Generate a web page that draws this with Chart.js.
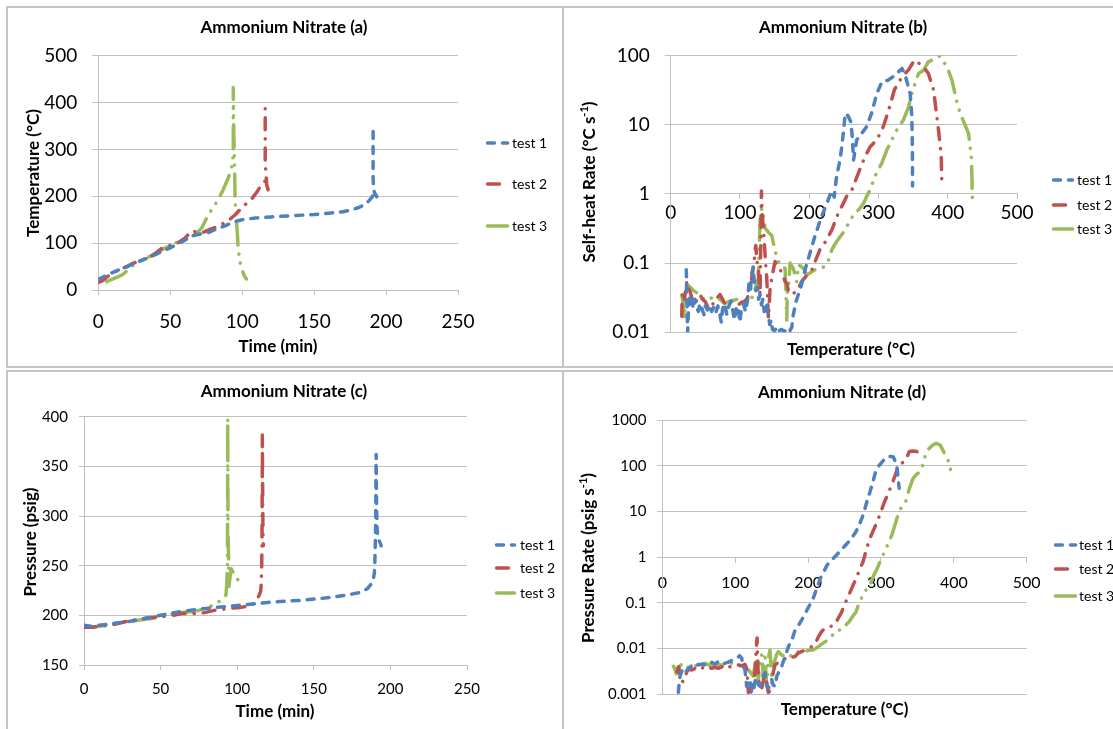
<!DOCTYPE html>
<html><head><meta charset="utf-8">
<script src="https://cdn.jsdelivr.net/npm/chart.js@4.4.1/dist/chart.umd.min.js"></script>
<style>
html,body{margin:0;padding:0;background:#fff;overflow:hidden;width:1113px;height:729px;}
.frame{position:absolute;border:2px solid #c4c4c4;box-sizing:border-box;}
canvas{position:absolute;}
</style></head><body>
<div class="frame" style="left:6px;top:6px;width:558px;height:362px"></div>
<div class="frame" style="left:562px;top:6px;width:570px;height:362px"></div>
<div class="frame" style="left:6px;top:370px;width:558px;height:380px"></div>
<div class="frame" style="left:562px;top:370px;width:570px;height:380px"></div>
<canvas id="ca" width="554" height="360" style="left:8px;top:8px"></canvas>
<canvas id="cb" width="556" height="360" style="left:564px;top:8px"></canvas>
<canvas id="cc" width="554" height="360" style="left:8px;top:371px"></canvas>
<canvas id="cd" width="556" height="360" style="left:564px;top:371px"></canvas>
<script>
// ---------- data ----------
const seriesNames = ['test 1', 'test 2', 'test 3'];
const panelTitles = ['Ammonium Nitrate (a)', 'Ammonium Nitrate (b)', 'Ammonium Nitrate (c)', 'Ammonium Nitrate (d)'];

// (a) Temperature (°C) vs Time (min)
const aTime1 = [0,5,9,15,20,25,30,35,40,44,50,55,60,62.5,66,70,76,82,88,95,100,109,120,137,150,160,170,176,181,185,188,190,191,192.5,193.6,192,191.3,191,191,191,191,191,191];
const aTemp1 = [23,30,36,44,50,57,63,69,76,82,90,98,106,111,116,119,122,130,137,146,150,153.5,156,159,161,164,167,171,176,182,190,197,203,208,199,207,217,240,260,282,310,330,353];
const aTime2 = [0,3,6,11.6,16,20,24,27.8,32,38,44,50,55,60,64.9,68,72,78,83.3,90.3,95,99.6,103,106.5,110,113.5,115.8,118,117,116.5,116,116,116,116,116];
const aTemp2 = [16,20,28,39,45,50,57,61,66,74,89,95,100,110,126,124,122,130,135.6,148,160,175,185,194,208,225,232,214,225,250,270,303,330,360,389];
const aTime3 = [5.8,9,13.9,17,20.8,24,27.8,32,36,40,44,50,54,57.9,61,64.9,68,71.8,74,76,78.7,81,83.5,86.8,90.3,92.6,93.5,93.8,93.8,93.8,93.8,94,94.2,94.5,94.8,95,95.5,96,96.7,97.2,98.4,100,101.5,103];
const aTemp3 = [18,22,28.5,33,43,52,60,66,72,79,85.6,95,101,107,110,114,120,132,145,158,171,182,193,214,239,260.6,280,303,340,380,432,380,330,300,250,200,170,146,119,89,60.6,42,30,23.5];

// (b) Self-heat rate (°C/s) vs Temperature (°C)
const bTemp1 = [22.5,23,23.5,24,24.5,25.5,27,29,31,33,35,37,40,42,45,48,50,53,56,59,62,65,68,71,73,75,78,81,84,87,90,92,95,98,100,102,105,108,111,113,115,117,119,121,123,125,127,129,131,133,135,138,141,143,145,147,150,153,156,160,164,168,172,175,176,181,188,194,200,208,217,226,232,236,239.5,244.5,247,250,252,256,260,262,264,268.5,276,283,290,297.5,305,314,324,334,338.5,345.8,348.2,349,349.2];
const bRate1 = [0.08,0.05,0.025,0.015,0.01,0.02,0.03,0.035,0.026,0.022,0.03,0.024,0.02,0.026,0.022,0.018,0.024,0.021,0.025,0.02,0.023,0.019,0.024,0.018,0.014,0.022,0.026,0.018,0.024,0.028,0.02,0.015,0.024,0.02,0.014,0.022,0.026,0.02,0.03,0.05,0.04,0.07,0.087,0.05,0.04,0.045,0.03,0.035,0.025,0.03,0.02,0.026,0.018,0.013,0.015,0.011,0.0105,0.012,0.0105,0.011,0.0102,0.0115,0.0105,0.012,0.016,0.028,0.045,0.08,0.128,0.24,0.45,0.75,1.1,0.9,1.8,3.1,4.8,9,14.6,13.5,11,7,3.1,6,7.5,9.4,14.6,28,42,44,52,65,52,28,13,4.3,1.3];
const bTemp2 = [16,16.5,18,20,23.1,25,27.9,31,35.1,38,42.3,46,49.6,53,56.8,60,64,68,71.2,75,78.5,83,88,93,97.7,102,107.4,111,114.6,117,119.4,121,122.8,124.5,126.6,129,130.3,131,132,133.9,136.3,138.7,141.1,143.5,147,150.7,155.5,160.3,165.2,167.6,170,174.8,178,182,189.2,196.5,203.7,208.5,215.8,223,232.6,239.8,247,254,261.5,271,280.8,288,297.6,307,314.5,323,333.8,343.4,352,365,372,379.5,386.7,390.6,391.6];
const bRate2 = [0.017,0.03,0.04,0.03,0.054,0.045,0.039,0.03,0.025,0.03,0.035,0.03,0.028,0.024,0.022,0.025,0.028,0.032,0.035,0.03,0.025,0.027,0.028,0.026,0.025,0.027,0.028,0.032,0.039,0.06,0.089,0.12,0.18,0.11,0.075,0.035,0.3,1.1,0.5,0.32,0.13,0.06,0.016,0.043,0.07,0.105,0.084,0.075,0.054,0.051,0.039,0.035,0.037,0.039,0.054,0.067,0.079,0.105,0.16,0.2,0.3,0.47,0.66,0.92,1.14,2,3.5,4.8,6,9.4,16,32,49,62,86,69,55,32,8.4,3.5,1.26];
const bTemp3 = [16,17,18.5,20,21,23,27.9,33,39.9,45,49.6,55,61,64,71,78.5,84,90.5,97.7,102.5,107.4,112,117,121.8,126.6,128,129,131.5,134,136.3,141,146,150.7,155.5,160,165.2,167.6,168.5,170,172.4,175,177,182,184.4,188,191.7,196.5,203.7,208,213,218,223,227.8,232.6,237.4,244.6,251.8,259,266,272,278.4,283,288,295,304.9,312,319,326.5,336,343.4,348,353,357.8,365,372,382,388,399,406,415,422,430,434,435,435.5];
const bRate3 = [0.035,0.03,0.022,0.016,0.025,0.05,0.045,0.04,0.036,0.032,0.029,0.03,0.032,0.035,0.03,0.026,0.028,0.029,0.03,0.031,0.028,0.03,0.031,0.043,0.06,0.2,0.41,0.62,0.49,0.32,0.28,0.25,0.15,0.105,0.09,0.084,0.015,0.04,0.043,0.1,0.09,0.084,0.054,0.094,0.09,0.084,0.067,0.075,0.08,0.084,0.085,0.09,0.11,0.155,0.19,0.24,0.3,0.42,0.52,0.6,0.73,0.92,1.15,1.8,2.8,4.3,6,8.4,11.7,18,28,40,55,61,81,90,98,69,44,18,11.7,7.5,3.5,1.6,0.78];

// (c) Pressure (psig) vs Time (min)
const cTime1 = [0,5,10,20,30,40,50,60,68.7,80,96.8,110,120,140,155,165,173.6,180,185,188.5,189.5,189.8,190.3,190.5,190.6,190.7,190.9,191.2,191.8,193,194];
const cPres1 = [190,189,190,192,194,197,200,203,205,207,209.5,211.5,213,215,217,219,221,223,226.8,233.5,242,250,283.7,317,345,362,320,290,278,274,270];
const cTime2 = [0,5,10,20,26.8,35,50,58,65,70,78,85,95,102,108,111,113,115.3,115.8,116,116.2,116.3,116.4,116.4,116.6,116.8,117];
const cPres2 = [188,188,189,191,193.6,196,198.7,200,202,201.5,202.5,205,207,208,209.5,212,215.6,224,234,250,278,317,350,381.6,330,290,270];
const cTime3 = [0,5,10,15,20,30,40,50,59,65,70,75,80.5,85,89.7,92.7,93.3,93.6,93.7,93.8,93.8,93.9,94,94.3,94.5,94.4,94.6,96,97.8,99.5,101];
const cPres3 = [188,188,189,190,191.5,194,196,198,202,203,203.5,205,208,210.5,215.6,220.7,235,250.9,300,350,398,340,290,262,252,242,229,247,242,238,234.5];

// (d) Pressure rate (psig/s) vs Temperature (°C)
const dTemp1 = [21.9,23,24.2,27,28.7,32,35.6,40,45,49.3,55,60,67.6,72,76.8,82,85.9,90,95.1,99.7,104,106,108.8,111,113.4,115.7,118,120.2,122,124.8,127,129.4,132,134,136.2,138.5,140.8,143.1,145.4,148,150,152,154.6,157,159.2,163.7,168.3,172.9,177.4,182,186.6,191.1,197,207,216.7,226,236,241,246,251,256,261,265.7,270,275.5,280,285,289,292.6,296,300,305,310,314,317,320,322,323.5,324.5,325];
const dRate1 = [0.0011,0.0018,0.0025,0.0033,0.0037,0.0031,0.0036,0.0042,0.0048,0.0044,0.0046,0.0043,0.005,0.0046,0.0052,0.0047,0.0048,0.005,0.0055,0.006,0.0065,0.007,0.0062,0.004,0.0034,0.0015,0.002,0.0021,0.0013,0.0011,0.0019,0.0023,0.0016,0.0015,0.002,0.0026,0.0029,0.0016,0.0013,0.0018,0.0021,0.0016,0.0015,0.0025,0.0029,0.0041,0.0067,0.011,0.015,0.025,0.032,0.042,0.063,0.126,0.34,0.67,1.0,1.2,1.5,1.8,2.2,2.8,3.6,5,8.4,15,27,45,74,95,113,140,158,160,155,120,88,55,38,32];
const dTemp2 = [20,22,24,26,28,31,33,36,40.2,45,49.3,55,58.5,63,67.6,72,76.8,82,85.9,90,95.1,99.7,104,108.8,113.4,116,118,120.2,122,124.8,127,129.4,130,131.7,134,136.2,138.5,140.8,143.1,145.4,148,150,152,154.6,159.2,163.7,168.3,172.9,177.4,182,186.6,191,195.7,200,204.9,210,214,218,223.2,230,236,241,246,251,256,261,266,271,275.5,280,285,290,295,300,305,310,314.7,320,324.5,332,336,339,344,349,353,356];
const dRate2 = [0.0031,0.004,0.0025,0.002,0.0019,0.0021,0.003,0.0036,0.0034,0.0037,0.0034,0.0038,0.0036,0.004,0.0037,0.0039,0.0037,0.004,0.0037,0.0041,0.0039,0.0041,0.0044,0.0042,0.0045,0.0035,0.0011,0.0013,0.0011,0.0015,0.003,0.014,0.017,0.0021,0.0015,0.0013,0.002,0.0034,0.0018,0.0011,0.0012,0.0015,0.003,0.0044,0.005,0.0055,0.006,0.0067,0.0064,0.0067,0.008,0.0086,0.0092,0.01,0.011,0.013,0.018,0.023,0.028,0.03,0.033,0.045,0.063,0.1,0.15,0.23,0.34,0.55,0.8,1.5,2.6,4,6,10,16.5,25,38,65,104,123,160,204,210,204,195,187];
const dTemp3 = [15,17,19,20,21.9,24.2,28.7,31,35.6,40,44.7,49.3,55,58.5,63,67.6,72,76.8,82,85.9,90,95.1,99.7,104,108.8,113.4,118,121,124.8,127,129.4,130.5,131.7,134,136.2,138.5,140.8,143.1,145.4,147.7,150,152,154.6,157,159.2,163.7,168.3,172.9,177.4,182,186.6,191.1,195.7,200,204.9,210,214,220,226.5,232,236,241,246,251,256,261,265.7,270,275.5,280,285,290,295,300,305,310,314.7,320,324.5,329,334,339,344,349,353.9,358,361,365,368.6,372,376,381,385,388,391,393,395,397];
const dRate3 = [0.0041,0.0037,0.0028,0.0035,0.0032,0.0042,0.0048,0.0044,0.0038,0.0043,0.0041,0.0045,0.0043,0.0048,0.0044,0.0046,0.0042,0.0045,0.0043,0.0048,0.0044,0.0048,0.0045,0.0043,0.0041,0.0039,0.0034,0.003,0.0025,0.0042,0.008,0.0035,0.0018,0.0067,0.0072,0.0025,0.008,0.0015,0.0062,0.0092,0.0021,0.0045,0.0057,0.0075,0.0086,0.0072,0.0067,0.0075,0.0067,0.0072,0.0086,0.0086,0.0086,0.0092,0.0092,0.01,0.011,0.013,0.015,0.018,0.023,0.025,0.026,0.032,0.038,0.05,0.063,0.1,0.15,0.2,0.25,0.4,0.57,0.9,1.3,2,3.0,5.5,9.9,13,16.5,32,53,65,74,110,172,230,261,290,309,284,220,172,140,123,90,63];

// tick values / labels
const bLogTicks = [0.01, 0.1, 1, 10, 100];
const bLogLabels = ['0.01', '0.1', '1', '10', '100'];
const dLogTicks = [0.001, 0.01, 0.1, 1, 10, 100, 1000];
const dLogLabels = ['0.001', '0.01', '0.1', '1', '10', '100', '1000'];

// ---------- styles ----------
const FONT = 'Lato, "Noto Sans", "DejaVu Sans", sans-serif';
const GRID = '#c0c0c0';
const lineStyles = [
  {color: '#4f81bd', dash: [7, 8]},
  {color: '#c0504d', dash: [12, 9, 0.1, 9]},
  {color: '#9bbb59', dash: [22, 9, 0.1, 9, 0.1, 9]}
];

const deco = {
  id: 'deco',
  afterDraw(chart, args, o) {
    const ctx = chart.ctx;
    ctx.save();
    ctx.fillStyle = '#000';
    ctx.textBaseline = 'middle';
    ctx.textAlign = 'center';
    ctx.font = 'bold 17px ' + FONT;
    ctx.fillText(o.title, o.titleX, o.titleY);
    ctx.font = 'bold 17px ' + FONT;
    ctx.fillText(o.xTitle, o.xTitleX, o.xTitleY);
    // rotated y title, optional superscript
    ctx.translate(o.yTitleX, o.yTitleY);
    ctx.rotate(-Math.PI / 2);
    const parts = [[o.yTitle, 17, 0], [o.ySup, 11, -6], [o.yTail, 17, 0]];
    let total = 0;
    const widths = parts.map(p => { ctx.font = 'bold ' + p[1] + 'px ' + FONT; const w = ctx.measureText(p[0]).width; total += w; return w; });
    let x = -total / 2;
    ctx.textAlign = 'left';
    parts.forEach((p, i) => { ctx.font = 'bold ' + p[1] + 'px ' + FONT; ctx.fillText(p[0], x, p[2]); x += widths[i]; });
    ctx.restore();
    // legend
    chart.data.datasets.forEach((ds, i) => {
      const y = o.legendYs[i];
      ctx.save();
      ctx.strokeStyle = ds.borderColor;
      ctx.lineWidth = ds.borderWidth;
      ctx.lineCap = 'round';
      ctx.setLineDash(ds.borderDash);
      ctx.beginPath();
      ctx.moveTo(o.legendX0 + 1.5, y);
      ctx.lineTo(o.legendX1 - 1.5, y);
      ctx.stroke();
      ctx.setLineDash([]);
      ctx.fillStyle = '#000';
      ctx.font = '14px ' + FONT;
      ctx.textAlign = 'left';
      ctx.textBaseline = 'middle';
      ctx.fillText(ds.label, o.legendTX, y);
      ctx.restore();
    });
  }
};

function makeDatasets(series) {
  return series.map((s, i) => ({
    label: seriesNames[i],
    data: s[0].map((x, j) => ({x: x, y: s[1][j]})),
    showLine: true, pointRadius: 0, pointHoverRadius: 0,
    borderColor: lineStyles[i].color, backgroundColor: lineStyles[i].color,
    borderWidth: 3.5, borderDash: lineStyles[i].dash,
    borderCapStyle: 'round', borderJoinStyle: 'round', tension: 0, fill: false
  }));
}

function tickFont(size) { return {family: FONT, size: size}; }

function makeChart(id, series, scales, padding, decoOpts) {
  return new Chart(document.getElementById(id), {
    type: 'scatter',
    data: {datasets: makeDatasets(series)},
    options: {
      responsive: false, animation: false, devicePixelRatio: 1,
      layout: {padding: padding},
      plugins: {legend: {display: false}, tooltip: {enabled: false}, title: {display: false}, deco: decoOpts},
      scales: scales
    },
    plugins: [deco]
  });
}

// (a)
makeChart('ca', [[aTime1, aTemp1], [aTime2, aTemp2], [aTime3, aTemp3]], {
  x: {type: 'linear', min: 0, max: 250, ticks: {stepSize: 50, color: '#000', font: tickFont(19), padding: 15, maxRotation: 0},
      grid: {drawOnChartArea: false, color: GRID, tickLength: 5}, border: {color: GRID},
      afterFit: s => { s.height = 78; }},
  y: {type: 'linear', min: 0, max: 500, ticks: {stepSize: 100, color: '#000', font: tickFont(19), padding: 15},
      grid: {color: GRID, tickLength: 6}, border: {color: GRID},
      afterFit: s => { s.width = 90.3; }}
}, {top: 47.7, right: 104, bottom: 0, left: 0}, {
  title: panelTitles[0], titleX: 276, titleY: 20,
  xTitle: 'Time (min)', xTitleX: 270, xTitleY: 339,
  yTitle: 'Temperature (°C)', ySup: '', yTail: '', yTitleX: 26, yTitleY: 165,
  legendX0: 478, legendX1: 501, legendTX: 504, legendYs: [135, 176, 218]
});

// (b)
makeChart('cb', [[bTemp1, bRate1], [bTemp2, bRate2], [bTemp3, bRate3]], {
  x: {type: 'linear', min: 0, max: 500, position: {y: 1},
      ticks: {stepSize: 100, color: '#000', font: tickFont(19), padding: 3, maxRotation: 0},
      grid: {drawOnChartArea: false, color: GRID, tickLength: 5}, border: {color: GRID}},
  y: {type: 'logarithmic', min: 0.01, max: 100,
      afterBuildTicks: s => { s.ticks = bLogTicks.map(v => ({value: v})); },
      ticks: {color: '#000', font: tickFont(19), padding: 15, callback: (v, i) => bLogLabels[i]},
      grid: {color: GRID, tickLength: 6}, border: {color: GRID},
      afterFit: s => { s.width = 106.7; }}
}, {top: 47.5, right: 103, bottom: 35.7, left: 0}, {
  title: panelTitles[1], titleX: 279, titleY: 20,
  xTitle: 'Temperature (°C)', xTitleX: 287, xTitleY: 342,
  yTitle: 'Self-heat Rate (°C s', ySup: '-1', yTail: ')', yTitleX: 26, yTitleY: 174,
  legendX0: 488, legendX1: 510, legendTX: 513, legendYs: [172, 197, 221]
});

// (c)
makeChart('cc', [[cTime1, cPres1], [cTime2, cPres2], [cTime3, cPres3]], {
  x: {type: 'linear', min: 0, max: 250, ticks: {stepSize: 50, color: '#000', font: tickFont(15), padding: 10, maxRotation: 0},
      grid: {drawOnChartArea: false, color: GRID, tickLength: 5}, border: {color: GRID},
      afterFit: s => { s.height = 66; }},
  y: {type: 'linear', min: 150, max: 400, ticks: {stepSize: 50, color: '#000', font: tickFont(15), padding: 11},
      grid: {color: GRID, tickLength: 5}, border: {color: GRID},
      afterFit: s => { s.width = 76; }}
}, {top: 45.7, right: 95, bottom: 0, left: 0}, {
  title: panelTitles[2], titleX: 276, titleY: 21,
  xTitle: 'Time (min)', xTitleX: 267, xTitleY: 341,
  yTitle: 'Pressure (psig)', ySup: '', yTail: '', yTitleX: 23, yTitleY: 171,
  legendX0: 487, legendX1: 508, legendTX: 512, legendYs: [174, 197, 222]
});

// (d)
makeChart('cd', [[dTemp1, dRate1], [dTemp2, dRate2], [dTemp3, dRate3]], {
  x: {type: 'linear', min: 0, max: 500, position: {y: 1},
      ticks: {stepSize: 100, color: '#000', font: tickFont(16), padding: 11, maxRotation: 0},
      grid: {drawOnChartArea: false, color: GRID, tickLength: 5}, border: {color: GRID}},
  y: {type: 'logarithmic', min: 0.001, max: 1000,
      afterBuildTicks: s => { s.ticks = dLogTicks.map(v => ({value: v})); },
      ticks: {color: '#000', font: tickFont(15), padding: 11, callback: (v, i) => dLogLabels[i]},
      grid: {color: GRID, tickLength: 5}, border: {color: GRID},
      afterFit: s => { s.width = 98.4; }}
}, {top: 49, right: 93.3, bottom: 36.7, left: 0}, {
  title: panelTitles[3], titleX: 278, titleY: 22,
  xTitle: 'Temperature (°C)', xTitleX: 280.6, xTitleY: 339,
  yTitle: 'Pressure Rate (psig s', ySup: '-1', yTail: ')', yTitleX: 25, yTitleY: 187,
  legendX0: 490, legendX1: 513, legendTX: 515, legendYs: [174, 198, 225]
});
</script>
</body></html>
